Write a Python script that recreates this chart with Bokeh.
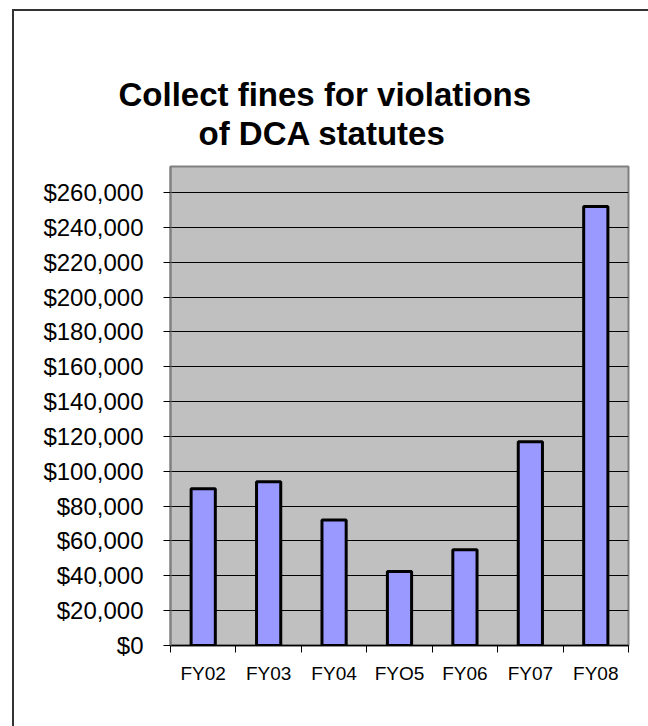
from bokeh.plotting import figure
from bokeh.models import FixedTicker, NumeralTickFormatter, Range1d, Title, ColumnDataSource
from bokeh.embed import file_html
from bokeh.resources import INLINE

# ---- data ----
categories = ["FY02", "FY03", "FY04", "FYO5", "FY06", "FY07", "FY08"]
fines = [90000, 94000, 72000, 42500, 55000, 117000, 252000]
y_ticks = [0, 20000, 40000, 60000, 80000, 100000, 120000, 140000,
           160000, 180000, 200000, 220000, 240000, 260000]
y_max = 275000
title_line1 = "Collect fines for violations"
title_line2 = "of DCA statutes"

FONT = "Liberation Sans"
positions = list(range(len(categories)))
source = ColumnDataSource(dict(x=positions, top=fines, label=categories))

W, H = 634, 715
p = figure(width=W, height=H, output_backend="svg", toolbar_location=None,
           x_range=Range1d(-0.5, len(categories) - 0.5),
           y_range=Range1d(0, y_max),
           min_border_left=156, min_border_right=20,
           min_border_top=155, min_border_bottom=81)
p.styles = {"margin-left": "14px", "margin-top": "11px",
            "outline": "2px solid #333333"}

p.background_fill_color = "#C0C0C0"
p.border_fill_color = "white"
p.outline_line_color = "#808080"
p.outline_line_width = 2

p.vbar(x="x", top="top", width=0.37, source=source,
       fill_color="#9999FF", line_color="black", line_width=3)

# title: two lines, each centred on the page
p.title.text = title_line1
p.title.align = "left"
p.title.offset = -52
p.title.text_font = FONT
p.title.text_font_size = "33px"
p.title.text_font_style = "bold"
p.title.text_color = "black"
p.title.standoff = 0
spacer = Title(text=" ", text_font_size="1px", standoff=12)
p.add_layout(spacer, "above")
t2 = Title(text=title_line2, align="left", offset=28, text_font=FONT,
           text_font_size="33px", text_font_style="bold", text_color="black",
           standoff=0)
p.add_layout(t2, "above")

# y axis
yax = p.yaxis[0]
yax.ticker = FixedTicker(ticks=y_ticks)
yax.formatter = NumeralTickFormatter(format="$0,0")
yax.major_label_text_font = FONT
yax.major_label_text_font_size = "24px"
yax.major_label_text_color = "black"
yax.axis_line_color = "#808080"
yax.axis_line_width = 2
yax.major_tick_line_color = "black"
yax.major_tick_out = 7
yax.major_tick_in = 0
yax.minor_tick_line_color = None
yax.major_label_standoff = 20

# x axis: labels at centres, tick marks at category boundaries
xax = p.xaxis[0]
xax.ticker = FixedTicker(ticks=positions,
                         minor_ticks=[i - 0.5 for i in range(len(categories) + 1)])
xax.major_label_overrides = {i: c for i, c in zip(positions, categories)}
xax.major_label_text_font = FONT
xax.major_label_text_font_size = "19px"
xax.major_label_text_color = "black"
xax.major_tick_line_color = None
xax.minor_tick_line_color = "black"
xax.minor_tick_out = 7
xax.minor_tick_in = 0
xax.axis_line_color = "black"
xax.axis_line_width = 1.5
xax.major_label_standoff = 10

p.xgrid.visible = False
p.ygrid.ticker = FixedTicker(ticks=y_ticks)
p.ygrid.grid_line_color = "black"
p.ygrid.grid_line_width = 1

open("out.html", "w").write(file_html(p, INLINE))
